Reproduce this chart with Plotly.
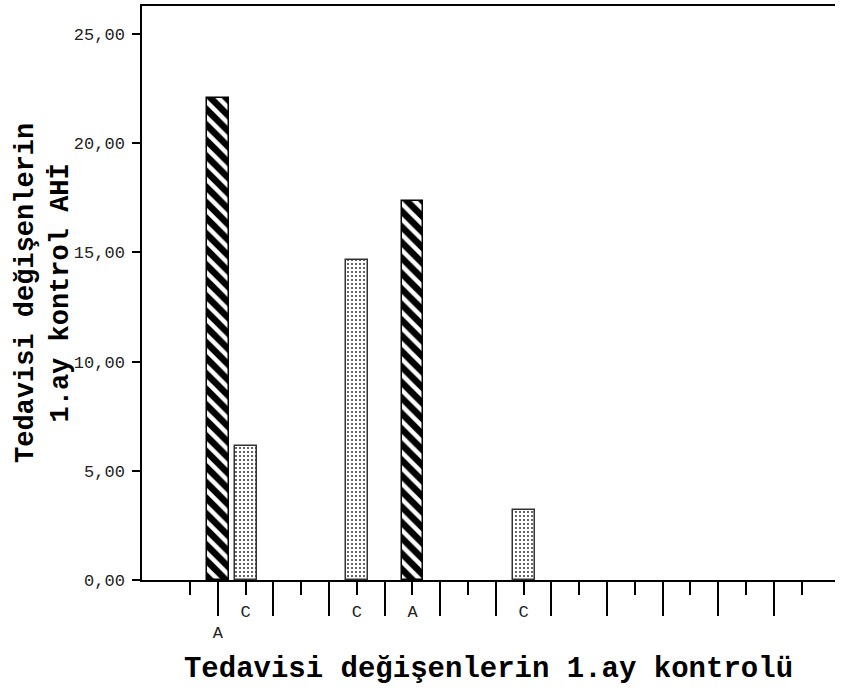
import plotly.graph_objects as go

# Category labels along the x axis (one per case) and the bar values
categories = ["", "A", "C", "", "", "", "C", "", "A", "", "", "", "C",
              "", "", "", "", "", "", "", "", "", ""]
values = [None, 22.05, 6.12, None, None, None, 14.66, None, 17.33, None, None, None, 3.21,
          None, None, None, None, None, None, None, None, None, None]
y_tick_vals = [0, 5, 10, 15, 20, 25]
y_tick_text = ["0,00", "5,00", "10,00", "15,00", "20,00", "25,00"]

x_title = "Tedavisi değişenlerin 1.ay kontrolü"
y_title = "Tedavisi değişenlerin<br>1.ay kontrol AHİ"

positions = list(range(len(categories)))
FONT = "Courier New, Nimbus Mono PS, Nimbus Mono L, FreeMono, Liberation Mono, monospace"

fig = go.Figure()

def group(label):
    xs = [p for p, c, v in zip(positions, categories, values) if c == label and v is not None]
    ys = [v for c, v in zip(categories, values) if c == label and v is not None]
    return xs, ys

ax, ay = group("A")
cx, cy = group("C")

fig.add_trace(go.Bar(
    x=ax, y=ay, width=0.78, showlegend=False,
    marker=dict(color="black",
                line=dict(color="black", width=1.5),
                pattern=dict(shape="\\", fillmode="replace", bgcolor="black",
                             fgcolor="white", fgopacity=1,
                             size=11, solidity=0.4)),
))
fig.add_trace(go.Bar(
    x=cx, y=cy, width=0.78, showlegend=False,
    marker=dict(color="white",
                line=dict(color="#333333", width=1.5),
                pattern=dict(shape=".", fillmode="replace", bgcolor="white",
                             fgcolor="#333333", fgopacity=1,
                             size=4, solidity=0.2)),
))

even = [p for p in positions if p % 2 == 0]
odd = [p for p in positions if p % 2 == 1]

# invisible trace so the second (long-tick) axis is drawn
fig.add_trace(go.Scatter(x=odd, y=[None] * len(odd), xaxis="x2", yaxis="y",
                         mode="markers", showlegend=False, hoverinfo="skip"))

xr = [-1.73, 23.2]
tickfont = dict(family=FONT, size=17, color="#222222")
xtitlefont = dict(family=FONT, size=29, color="black", weight="bold")
ytitlefont = dict(family=FONT, size=27, color="black", weight="bold")

fig.update_layout(
    width=845, height=693,
    margin=dict(l=142, r=10, t=4, b=113),
    paper_bgcolor="white", plot_bgcolor="white",
    bargap=0,
    xaxis=dict(
        range=xr, tickmode="array", tickvals=even,
        ticktext=[categories[p] for p in even],
        ticks="outside", ticklen=13, tickwidth=1.5, tickcolor="black",
        showline=True, linecolor="black", linewidth=1.5, mirror=True,
        showgrid=False, zeroline=False, tickfont=tickfont,
        ticklabelstandoff=2,
        title=dict(text=x_title, font=xtitlefont, standoff=36),
    ),
    xaxis2=dict(
        range=xr, overlaying="x", anchor="y", side="bottom",
        tickmode="array", tickvals=odd,
        ticktext=[categories[p] for p in odd],
        ticks="outside", ticklen=35, tickwidth=1.5, tickcolor="black",
        showline=False, showgrid=False, zeroline=False, tickfont=tickfont,
        ticklabelstandoff=2,
    ),
    yaxis=dict(
        range=[0, 26.28], tickmode="array", tickvals=y_tick_vals, ticktext=y_tick_text,
        ticks="outside", ticklen=8, tickwidth=1.5, tickcolor="black",
        showline=True, linecolor="black", linewidth=1.5,
        showgrid=False, zeroline=False, tickfont=tickfont,
        ticklabelstandoff=4,
    ),
    annotations=[dict(
        text=y_title, textangle=-90, font=ytitlefont,
        xref="paper", yref="paper", x=0, y=0.5,
        xanchor="center", yanchor="middle", xshift=-99, showarrow=False,
    )],
)

fig.write_html("out.html")
